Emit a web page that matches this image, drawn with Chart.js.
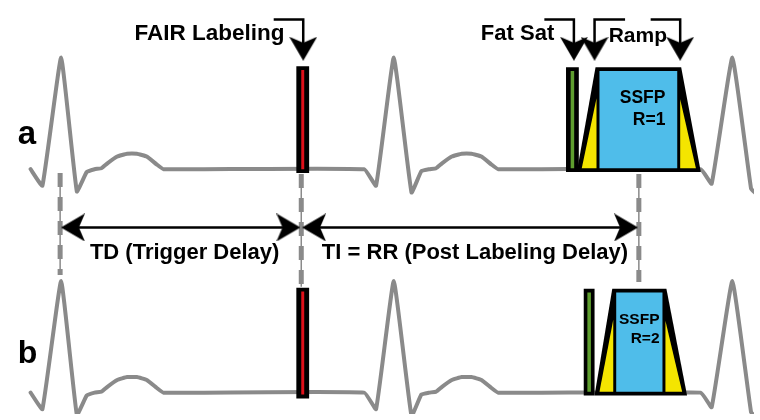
<!DOCTYPE html>
<html>
<head>
<meta charset="utf-8">
<script src="https://cdn.jsdelivr.net/npm/chart.js@4.4.1/dist/chart.umd.min.js"></script>
<style>
  body { margin: 0; background: #fff; }
  canvas { display: block; }
</style>
</head>
<body>
<canvas id="diagram" width="760" height="420"></canvas>
<script>
//Diagram values (x = time axis, y = vertical position)
//ECG trace: time points and deflection above the baseline
var ecgX = [25, 37, 56, 72, 82, 90, 97, 103, 113, 123, 133, 143, 153, 160,
            364, 376, 394, 412, 422, 430, 437, 443, 453, 463, 473, 483, 493, 500,
            706, 717, 738, 757, 762];
var ecgY = [0, -17, 115, -23, -3, 0, 1, 6, 13, 16, 16, 13, 5, 0,
            0, -17, 115, -24, -2, 0, 1, 6, 13, 16, 16, 13, 5, 0,
            0, -15, 115, -20, -25];

//Two acquisitions, a and b
var rowLabels = ["a", "b"];
var rowBase = [168, 398];
var pulseTop = [63, 291];
var fairX = [295, 308];
var fatSatX = [[569, 582], [587, 598]];
var rampX = [[580, 599, 686, 706], [598, 616, 671, 692]];
var readoutText = [["SSFP", "R=1"], ["SSFP", "R=2"]];

//Timing markers and delay spans
var markerX = [55, 300, 643];
var markerY = [[172, 277], [173, 289], [173, 284]];
var spanY = 228;
var spanX = [[57, 298], [302, 641]];
var spanLabels = ["TD (Trigger Delay)", "TI = RR (Post Labeling Delay)"];

//Pulse call-outs at the top
var calloutLabels = ["FAIR Labeling", "Fat Sat", "Ramp", ""];
var calloutFrom = [272, 547, 629, 655];
var calloutTo = [302, 577, 598, 685];

//Colours
var gray = "#8a8a8a";
var red = "#e0101a";
var green = "#5f9e2f";
var yellow = "#f4e500";
var blue = "#4fbdea";

//***DIAGRAM CODE***
var datasets = [];

function addLine(points, color, width, dash) {
    datasets.push({
        data: points,
        showLine: true,
        borderColor: color,
        borderWidth: width,
        borderDash: dash || [],
        borderJoinStyle: "miter",
        pointRadius: 0,
        fill: false
    });
}
function addShape(points, color) {
    datasets.push({
        data: points.concat([points[0]]),
        showLine: true,
        borderColor: "rgba(0,0,0,0)",
        borderWidth: 0,
        backgroundColor: color,
        pointRadius: 0,
        fill: "shape"
    });
}
function rect(x0, x1, y0, y1) {
    return [{x: x0, y: y0}, {x: x1, y: y0}, {x: x1, y: y1}, {x: x0, y: y1}];
}

//ECG traces
rowBase.forEach(function (base) {
    var pts = ecgX.map(function (x, i) { return {x: x, y: base - ecgY[i]}; });
    datasets.push({
        data: pts,
        showLine: true,
        borderColor: gray,
        borderWidth: 4,
        tension: 0.1,
        borderJoinStyle: "round",
        borderCapStyle: "round",
        pointRadius: 0,
        fill: false
    });
});

//dashed timing markers
markerX.forEach(function (x, i) {
    var pts = [{x: x, y: markerY[i][0]}, {x: x, y: markerY[i][1]}];
    addLine(pts, gray, 1.5);
    addLine(pts, gray, 5, [14, 10]);
});

//pulses
rowBase.forEach(function (base, r) {
    var top = pulseTop[r];
    var bot = base + 3;
    //FAIR labeling pulse
    addShape(rect(fairX[0], fairX[1], top - 1, bot + (r ? 3 : 1)), "#000");
    var mid = (fairX[0] + fairX[1]) / 2;
    addShape(rect(mid - 1.5, mid + 1.5, top + 3, bot - 3 + (r ? 2 : 0)), red);
    //fat saturation
    var f = fatSatX[r];
    addShape(rect(f[0], f[1], top, bot), "#000");
    var fm = (f[0] + f[1]) / 2;
    addShape(rect(fm - 1.8, fm + 1.8, top + 4, bot - 4), green);
    //ramp up, readout, ramp down
    var q = rampX[r];
    addShape([{x: q[0], y: bot}, {x: q[1], y: top}, {x: q[2], y: top}, {x: q[3], y: bot}], "#000");
    addShape([{x: q[0] + 5, y: bot - 4}, {x: q[1] + 1, y: bot - 4}, {x: q[1] + 1, y: top + 32}], yellow);
    addShape([{x: q[2] - 1, y: bot - 4}, {x: q[2] - 1, y: top + 33}, {x: q[3] - 5, y: bot - 4}], yellow);
    addShape(rect(q[1] + 4, q[2] - 4, top + 4, bot - 4), blue);
});

//delay spans
spanX.forEach(function (s) {
    addLine([{x: s[0] + 4, y: spanY}, {x: s[1] - 4, y: spanY}], "#000", 2.5);
});

//call-out brackets
calloutFrom.forEach(function (x, i) {
    addLine([{x: x, y: 14}, {x: calloutTo[i], y: 14}, {x: calloutTo[i], y: 42}], "#000", 2.5);
});

//arrow heads as a point style
var head = document.createElement("canvas");
head.width = 28;
head.height = 24;
var hc = head.getContext("2d");
hc.beginPath();
hc.moveTo(0, 0);
hc.lineTo(14, 6);
hc.lineTo(28, 0);
hc.lineTo(14, 24);
hc.closePath();
hc.fillStyle = "#000";
hc.fill();

var headPts = [];
var headRot = [];
calloutTo.forEach(function (x) {
    headPts.push({x: x, y: 56 - 12});
    headRot.push(0);
});
spanX.forEach(function (s) {
    headPts.push({x: s[0] + 11, y: spanY});
    headRot.push(90);
    headPts.push({x: s[1] - 11, y: spanY});
    headRot.push(-90);
});
datasets.push({
    data: headPts,
    showLine: false,
    pointStyle: head,
    pointRadius: 5,
    pointRotation: headRot
});

//later datasets on top
datasets.forEach(function (d, i) { d.order = -i; });

var textPlugin = {
    id: "diagramText",
    afterDatasetsDraw: function (chart) {
        var c = chart.ctx;
        var xs = chart.scales.x;
        var ys = chart.scales.y;
        function put(str, x, y, size, align) {
            c.font = "bold " + size + "px 'Liberation Sans', Arial, sans-serif";
            c.textAlign = align;
            c.textBaseline = "alphabetic";
            c.fillStyle = "#000";
            c.fillText(str, xs.getPixelForValue(x), ys.getPixelForValue(y));
        }
        c.save();
        put(calloutLabels[0], calloutFrom[0] + 11, 35, 22.5, "right");
        put(calloutLabels[1], calloutFrom[1] + 10, 35, 22, "right");
        put(calloutLabels[2], (calloutFrom[2] + calloutFrom[3]) / 2 + 0, 37, 21, "center");
        spanX.forEach(function (s, i) {
            put(spanLabels[i], (s[0] + s[1]) / 2 + (i ? 5 : 4), 260, 22, "center");
        });
        rowLabels.forEach(function (l, r) {
            put(l, 12, rowBase[r] - (r ? 30 : 26), r ? 32 : 33, "left");
            var right = rampX[r][2] - (r ? 7 : 16);
            var size = r ? 15.5 : 17.5;
            put(readoutText[r][0], right, pulseTop[r] + (r ? 36 : 37), size, "right");
            put(readoutText[r][1], right, pulseTop[r] + (r ? 56 : 59), size, "right");
        });
        c.restore();
    }
};

var ctx = document.getElementById("diagram");
var diagram = new Chart(ctx, {
    type: "line",
    data: { datasets: datasets },
    options: {
        responsive: false,
        animation: false,
        events: [],
        layout: { padding: 0 },
        plugins: {
            legend: { display: false },
            tooltip: { enabled: false }
        },
        scales: {
            x: { type: "linear", min: 0, max: 760, display: false },
            y: { type: "linear", min: 0, max: 420, reverse: true, display: false }
        }
    },
    plugins: [textPlugin]
});
</script>
</body>
</html>
